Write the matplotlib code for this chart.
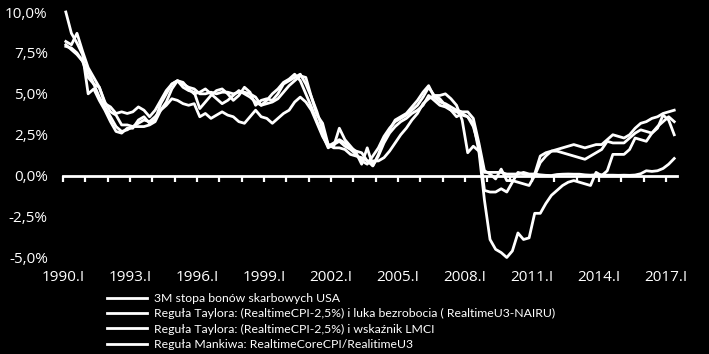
import matplotlib
matplotlib.use("Agg")
import matplotlib.pyplot as plt
from matplotlib.ticker import FuncFormatter

plt.rcParams['font.family'] = ['Open Sans', 'DejaVu Sans']

# quarterly data 1990.I - 2017.II, in %
years = list(range(1990, 2018))
label_years = years[::3]

tbill = [
    7.9, 7.8, 7.5, 7.0,  6.0, 5.6, 5.4, 4.5,  3.9, 3.7, 3.1, 3.1,  3.0, 3.0, 3.0, 3.1,
    3.3, 4.0, 4.5, 5.3,  5.8, 5.6, 5.4, 5.3,  5.0, 5.0, 5.1, 5.0,  5.1, 5.1, 5.0, 5.1,
    5.1, 5.0, 4.8, 4.3,  4.4, 4.5, 4.7, 5.1,  5.5, 5.8, 6.1, 6.0,  4.8, 3.7, 3.2, 1.9,
    1.7, 1.7, 1.6, 1.3,  1.2, 1.1, 0.9, 0.9,  0.9, 1.1, 1.5, 2.0,  2.5, 2.9, 3.4, 3.8,
    4.4, 4.7, 4.9, 4.9,  5.0, 4.7, 4.3, 3.4,  1.4, 1.8, 1.5, 0.2,  0.2, 0.2, 0.2, 0.1,
    0.1, 0.1, 0.2, 0.1,  0.1, 0.05, 0.02, 0.01,  0.07, 0.09, 0.1, 0.09,  0.09, 0.05, 0.03, 0.06,
    0.05, 0.03, 0.03, 0.02,  0.03, 0.02, 0.04, 0.12,  0.3, 0.26, 0.3, 0.44,  0.7, 1.05,
]
taylor_u3 = [
    8.2, 8.0, 8.7, 7.6,  6.6, 6.0, 5.4, 4.4,  4.2, 3.8, 3.9, 3.8,  3.9, 4.2, 4.0, 3.6,
    4.0, 4.6, 5.2, 5.6,  5.8, 5.7, 5.3, 5.0,  5.1, 5.3, 5.0, 4.7,  4.4, 4.6, 4.9, 5.2,
    5.0, 4.8, 4.5, 4.3,  4.6, 5.0, 5.3, 5.7,  5.9, 6.2, 5.8, 5.0,  4.2, 3.3, 2.5, 1.7,
    1.9, 2.1, 1.8, 1.6,  1.3, 0.9, 0.7, 1.2,  1.7, 2.4, 2.9, 3.3,  3.5, 3.7, 4.0, 4.3,
    4.8, 5.4, 4.9, 4.7,  4.3, 4.0, 3.9, 3.7,  3.6, 3.0, 1.8, -0.9,  -1.0, -1.0, -0.8, -1.0,
    -0.4, 0.2, 0.1, 0.0,  0.1, 1.2, 1.4, 1.5,  1.6, 1.7, 1.8, 1.9,  1.8, 1.7, 1.8, 1.9,
    1.9, 2.2, 2.5, 2.4,  2.3, 2.5, 2.9, 3.2,  3.3, 3.5, 3.6, 3.8,  3.9, 4.0,
]
taylor_lmci = [
    10.0, 8.7, 8.1, 7.4,  5.0, 5.3, 4.6, 4.0,  3.3, 2.7, 2.6, 2.9,  2.9, 3.4, 3.6, 3.2,
    3.4, 4.4, 5.0, 5.6,  5.8, 5.4, 5.2, 5.1,  4.1, 4.5, 4.9, 5.2,  5.3, 5.0, 4.6, 4.9,
    5.4, 5.1, 4.3, 4.6,  4.7, 4.6, 5.0, 5.6,  5.8, 6.0, 6.2, 5.6,  4.8, 3.9, 2.8, 1.9,
    1.8, 2.9, 2.2, 1.8,  1.4, 0.7, 1.7, 0.6,  1.3, 2.2, 2.8, 3.4,  3.6, 3.8, 4.2, 4.6,
    5.1, 5.5, 4.8, 4.5,  4.4, 4.2, 4.0, 3.9,  3.9, 3.5, 2.0, 0.3,  0.1, -0.2, 0.4, -0.3,
    -0.3, -0.4, -0.5, -0.6,  0.0, 0.8, 1.2, 1.5,  1.5, 1.4, 1.3, 1.2,  1.1, 1.0, 1.2, 1.4,
    1.6, 2.1, 2.0, 2.0,  2.0, 2.3, 2.6, 2.8,  2.7, 2.6, 2.9, 3.7,  3.4, 2.5,
]
mankiw = [
    8.0, 7.7, 7.4, 7.0,  6.4, 5.6, 4.8, 4.2,  3.6, 3.0, 2.7, 2.8,  3.0, 3.2, 3.4, 3.3,
    3.6, 4.0, 4.3, 4.7,  4.6, 4.4, 4.3, 4.4,  3.6, 3.8, 3.5, 3.7,  3.9, 3.7, 3.6, 3.3,
    3.2, 3.6, 4.0, 3.6,  3.5, 3.2, 3.5, 3.8,  4.0, 4.5, 4.8, 4.5,  4.0, 3.2, 2.4, 1.8,
    2.0, 2.2, 2.0, 1.7,  1.5, 1.4, 0.9, 0.6,  1.2, 2.0, 2.6, 3.0,  3.3, 3.5, 3.8, 4.0,
    4.3, 4.9, 4.6, 4.3,  4.2, 4.0, 3.6, 3.8,  3.6, 3.2, 1.5, -1.5,  -3.9, -4.5, -4.7, -5.0,
    -4.6, -3.5, -3.9, -3.8,  -2.3, -2.3, -1.7, -1.2,  -0.9, -0.6, -0.4, -0.3,  -0.4, -0.5, -0.6, 0.2,
    0.0, 0.3, 1.3, 1.3,  1.3, 1.6, 2.3, 2.2,  2.1, 2.6, 3.0, 3.3,  3.6, 3.3,
]

names = [
    "3M stopa bonów skarbowych USA",
    "Reguła Taylora: (RealtimeCPI-2,5%) i luka bezrobocia ( RealtimeU3-NAIRU)",
    "Reguła Taylora: (RealtimeCPI-2,5%) i wskaźnik LMCI",
    "Reguła Mankiwa: RealtimeCoreCPI/RealitimeU3",
]

n = len(tbill)
x = list(range(n))

fig = plt.figure(figsize=(7.09, 3.54), dpi=100, facecolor='black')
ax = fig.add_axes([0.0889, 0.2726, 0.866, 0.6935], facecolor='black')

for s, name in zip([tbill, taylor_u3, taylor_lmci, mankiw], names):
    ax.plot(x, s, color='white', lw=2.0, label=name, clip_on=False)

ax.set_xlim(-0.5, n - 0.5)
ax.set_ylim(-5, 10)

# axis line sits at 0%
for side in ['left', 'top', 'right']:
    ax.spines[side].set_visible(False)
ax.spines['bottom'].set_position(('data', 0))
ax.spines['bottom'].set_color('white')
ax.spines['bottom'].set_linewidth(2)

ax.set_xticks([4 * i - 0.5 for i in range(len(years))])
ax.tick_params(axis='x', direction='out', length=4, width=1.6, color='white', labelbottom=False)

ax.set_yticks([-5, -2.5, 0, 2.5, 5, 7.5, 10])
ax.yaxis.set_major_formatter(FuncFormatter(lambda v, p: f"{v:.1f}%".replace('.', ',')))
ax.tick_params(axis='y', length=0, pad=11, labelcolor='white', labelsize=11)

# year labels at the bottom of the plot
sec = ax.secondary_xaxis('bottom')
sec.set_xticks([12 * i - 0.5 for i in range(len(label_years))])
sec.set_xticklabels([f"{y}.I" for y in label_years])
sec.tick_params(length=0, pad=9, labelcolor='white', labelsize=11)
sec.spines['bottom'].set_visible(False)

fig.legend(loc='upper left', bbox_to_anchor=(0.151, 0.172), frameon=False,
           labelcolor='white', prop={'family': ['Lato', 'DejaVu Sans'], 'size': 8.8},
           handlelength=3.3, handletextpad=0.5, labelspacing=0.35,
           borderpad=0, borderaxespad=0)

fig.savefig('out.png', dpi=100, facecolor='black')
